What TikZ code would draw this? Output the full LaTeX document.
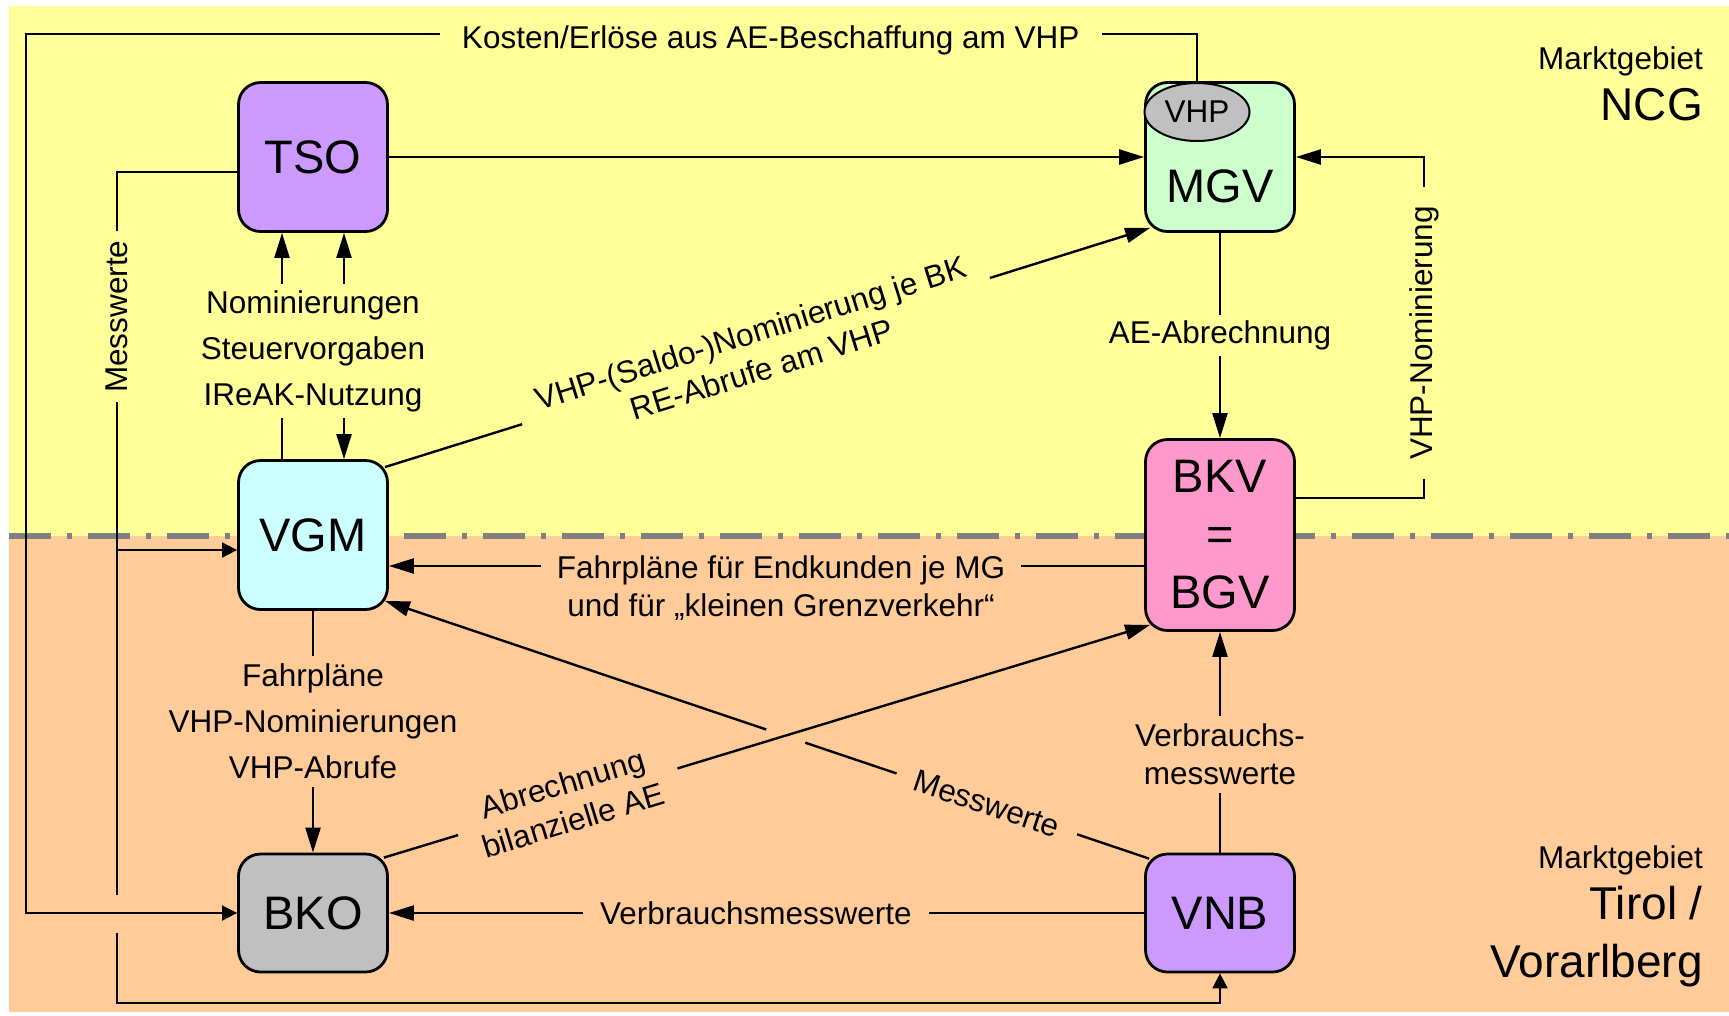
\documentclass[tikz,border=0pt]{standalone}
\usepackage{fontspec}
\setmainfont{Liberation Sans}
\usetikzlibrary{arrows.meta,calc,shapes.geometric}

\definecolor{ncggelb}{RGB}{255,255,153}
\definecolor{tirolorange}{RGB}{255,204,153}
\definecolor{lila}{RGB}{204,153,255}
\definecolor{hellgruen}{RGB}{204,255,204}
\definecolor{hellcyan}{RGB}{204,255,255}
\definecolor{rosa}{RGB}{255,153,204}
\definecolor{hellgrau}{RGB}{192,192,192}
\definecolor{grenzgrau}{RGB}{128,128,128}

\newcommand{\rollenfont}{\fontsize{47}{58}\selectfont}
\newcommand{\lblfont}{\fontsize{31.5}{38}\selectfont}
\newcommand{\lbldrei}{\fontsize{31.5}{46}\selectfont}
\newcommand{\gebietfont}{\fontsize{46}{58}\selectfont}

\begin{document}
\begin{tikzpicture}[x=1pt,y=1pt,>={Triangle[length=25pt,width=15pt]}]
\tikzstyle{every node}+=[inner sep=0pt]
\tikzstyle{rolle}=[draw=black, line width=2.8pt, rounded corners=22pt, minimum width=149pt, minimum height=149pt, font=\rollenfont, align=center]
\tikzstyle{lbl}=[font=\lblfont, align=center]
\tikzstyle{fluss}=[draw=black, line width=2.4pt]
\tikzstyle{mess}=[draw=black, line width=1.8pt, >={Triangle[length=15pt,width=15pt]}]
\tikzstyle{grenze}=[draw=grenzgrau, line width=5.5pt, dash pattern=on 42pt off 16pt on 5pt off 16pt]
\useasboundingbox (0,0) rectangle (1729,-1015);
\fill [ncggelb] (9,-6) rectangle (1729,-536);
\fill [tirolorange] (9,-536) rectangle (1729,-1012);
\draw [grenze] (9,-536) -- (1729,-536);
\node [rolle, fill=lila] (TSO) at (313,-157) {TSO};
\node [rolle, fill=hellgruen] (MGV) at (1220,-157) {};
\node [draw=black, line width=2pt, ellipse, fill=hellgrau, minimum width=105pt, minimum height=58pt, font=\lblfont] (VHP) at (1197,-112) {VHP};
\node [font=\rollenfont] (MGVtext) at (1220,-186) {MGV};
\node [rolle, fill=hellcyan] (VGM) at (313,-535) {VGM};
\node [rolle, fill=rosa, minimum height=191pt] (BKV) at (1220,-535) {BKV\\=\\BGV};
\node [rolle, fill=hellgrau, minimum height=118pt] (BKO) at (313,-913) {BKO};
\node [rolle, fill=lila, minimum height=118pt] (VNB) at (1220,-913) {VNB};
\node [lbl, anchor=east] (ncgkopf) at (1703,-61) {Marktgebiet};
\node [font=\gebietfont, anchor=east] (ncgname) at (1703,-105) {NCG};
\node [lbl, anchor=east] (tirolkopf) at (1703,-860) {Marktgebiet};
\node [font=\gebietfont, anchor=east, align=right] (tirolname) at (1703,-937) {Tirol /\\Vorarlberg};
\coordinate (kostenecke) at (26,-34);
\draw [mess,->] (VHP.north) |- node [lbl, fill=ncggelb, inner xsep=22pt, inner ysep=3pt, pos=0.682, yshift=-6pt] {Kosten/Erlöse aus AE-Beschaffung am VHP} (kostenecke) |- (BKO.west);
\coordinate (messoben) at (117,-895);
\coordinate (messmitte) at (117,-933);
\coordinate (messunten) at (117,-1003);
\coordinate (messabzweig) at (117,-550);
\draw [mess] ([yshift=-15pt]TSO.west) -| node [lbl, fill=ncggelb, rotate=90, inner xsep=9pt, inner ysep=3pt, pos=0.6] {Messwerte} (messoben);
\draw [mess,->] (messmitte) -- (messunten) -| (VNB.south);
\draw [mess,->] (messabzweig) -- (messabzweig -| VGM.west);
\draw [fluss,->] (TSO) -- (MGV);
\draw [fluss,->] ([xshift=-31pt]VGM.north) -- ([xshift=-31pt]TSO.south);
\draw [fluss,<->] ([xshift=31pt]VGM.north) -- ([xshift=31pt]TSO.south);
\node [lbl, font=\lbldrei, fill=ncggelb, inner xsep=4pt, inner ysep=6pt] (nomi) at (313,-351) {Nominierungen\\Steuervorgaben\\IReAK-Nutzung};
\draw [fluss,->] ([shift={(-4pt,-8pt)}]VGM.north east) -- node [lbl, fill=ncggelb, sloped, inner xsep=20pt, inner ysep=4pt, pos=0.485] {VHP-(Saldo-)Nominierung je BK\\RE-Abrufe am VHP} ([shift={(6pt,5pt)}]MGV.south west);
\draw [fluss,->] (MGV) -- node [lbl, fill=ncggelb, inner xsep=4pt, inner ysep=6pt, pos=0.5] {AE-Abrechnung} (BKV);
\coordinate (nomiecke) at (1424,-157);
\draw [fluss,->] ([yshift=37pt]BKV.east) -| node [lbl, fill=ncggelb, rotate=90, inner xsep=19pt, inner ysep=3pt, pos=0.742] {VHP-Nominierung} (nomiecke) -- (MGV.east);
\draw [fluss,->] ([yshift=-31pt]BKV.west) -- ([yshift=-31pt]VGM.east);
\node [lbl, fill=tirolorange, inner xsep=16pt, inner ysep=2pt] (endkunden) at (781,-588) {Fahrpläne für Endkunden je MG\\und für „kleinen Grenzverkehr“};
\draw [fluss,->] (VGM) -- node [lbl, font=\lbldrei, fill=tirolorange, inner xsep=4pt, inner ysep=8pt, pos=0.456] {Fahrpläne\\VHP-Nominierungen\\VHP-Abrufe} (BKO);
\draw [fluss,->] ([shift={(-5pt,-5pt)}]BKO.north east) -- node [lbl, fill=tirolorange, sloped, inner xsep=20pt, inner ysep=3pt, pos=0.24] {Abrechnung\\bilanzielle AE} ([shift={(6pt,7pt)}]BKV.south west);
\coordinate (mwstart) at ([shift={(5pt,-6pt)}]VNB.north west);
\coordinate (mwziel) at ([shift={(-4pt,10pt)}]VGM.south east);
\draw [fluss] (mwstart) -- node [lbl, fill=tirolorange, sloped, inner xsep=19pt, inner ysep=3pt, pos=0.472] {Messwerte} ($(mwstart)!0.45!(mwziel)$);
\draw [fluss,->] ($(mwstart)!0.501!(mwziel)$) -- (mwziel);
\draw [fluss,->] (VNB) -- node [lbl, fill=tirolorange, inner xsep=17pt, inner ysep=3pt, pos=0.514] {Verbrauchsmesswerte} (BKO);
\draw [fluss,->] (VNB) -- node [lbl, fill=tirolorange, inner xsep=4pt, inner ysep=8pt, pos=0.445] {Verbrauchs-\\messwerte} (BKV);
\end{tikzpicture}
\end{document}
